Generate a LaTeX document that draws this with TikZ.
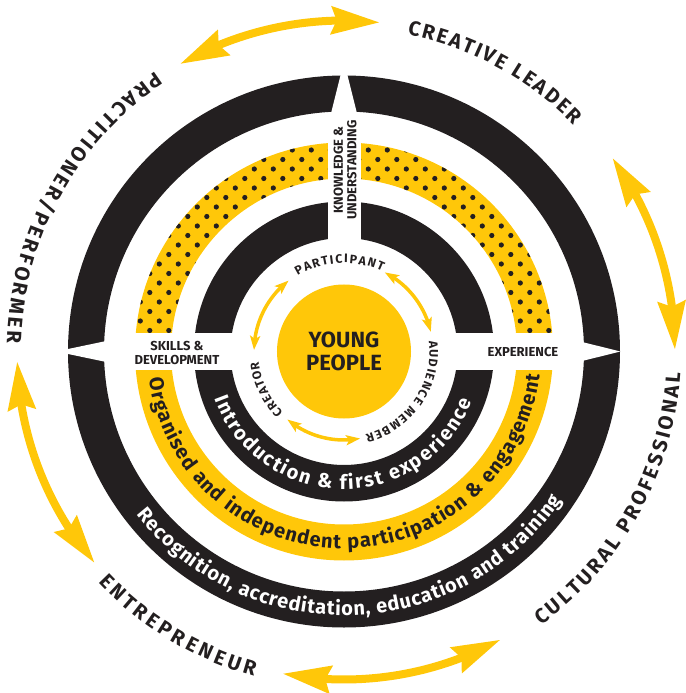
\documentclass[tikz,border=0pt]{standalone}
\usepackage{fontspec}
\setmainfont{Fira Sans}
\usepackage{tikz}
\usetikzlibrary{arrows.meta,bending,decorations.text}
\definecolor{ink}{HTML}{231F20}
\definecolor{gold}{HTML}{FFC709}
\tikzset{
	ring/.style       = {fill = ink, even odd rule},
	goldring/.style   = {fill = gold, even odd rule},
	gap/.style        = {fill = white},
	speck/.style      = {fill = ink},
	bigarrow/.style   = {draw = gold, line width = 8pt,
		{Stealth[length=48pt, width=27pt, inset=5pt]}-{Stealth[length=48pt, width=27pt, inset=5pt]}},
	smallarrow/.style = {draw = gold, line width = 3.5pt,
		{Stealth[length=14pt, width=10pt, inset=3pt]}-{Stealth[length=14pt, width=10pt, inset=3pt]}},
	band/.style       = {text = ink, align = center, inner sep = 0pt,
		font = \bfseries\fontsize{13}{13.5}\selectfont},
	core/.style       = {text = ink, align = center, inner sep = 0pt,
		font = \bfseries\fontsize{22}{22.5}\selectfont}
}
\newcommand{\rolefont}{\bfseries\fontsize{20.5}{22}\selectfont}
\newcommand{\stagefont}{\bfseries\fontsize{20}{22}\selectfont}
\newcommand{\modefont}{\bfseries\fontsize{12.3}{13}\selectfont}
% curved text: colour, radius, from, to, text
\newcommand{\curved}[5]{\path[decorate, decoration = {text along path,
	text align = fit to path, text color = #1, text = {#5}}]
	(#3:#2) arc[start angle = #3, end angle = #4, radius = #2];}

\begin{document}
\begin{tikzpicture}[x=1pt, y=1pt]
	\useasboundingbox (-344,-341.5) rectangle (341,351.5);

	% Drawing the three rings
	\fill[ring] (0,0) circle[radius=276] (0,0) circle[radius=240];
	\fill[goldring] (0,0) circle[radius=209] (0,0) circle[radius=173];
	\fill[ring] (0,0) circle[radius=150] (0,0) circle[radius=113.5];

	% dots on the upper half of the gold ring
	\begin{scope}[even odd rule]
		\clip (0,0) circle[radius=209] (0,0) circle[radius=173];
		\clip (-215,0) rectangle (215,215);
		\foreach \m in {-1,...,11}
		\foreach \i in {-12,...,11}{
			\fill[speck] (5.3+19*\i, 201.5-19*\m) circle[radius=2.6];
			\fill[speck] (14.8+19*\i, 192-19*\m) circle[radius=2.6];
		}
	\end{scope}

	% white bands and notches
	\fill[gap] (-215,-18.5) rectangle (215,18.5);
	\fill[gap] (-16.5,0) rectangle (16.5,215);
	\fill[gap] (-14.5,232) -- (14.5,232) -- (1.5,284) -- (-1.5,284) -- cycle;
	\fill[gap] (-232,11.7) -- (-232,-11.7) -- (-284,-0.8) -- (-284,0.8) -- cycle;
	\fill[gap] (230,11.5) -- (230,-11.5) -- (276.5,0) -- cycle;

	% Drawing the centre and the band labels
	\fill[gold] (0,0) circle[radius=67];
	\draw
	node at (0,0) [core] (young) {YOUNG\\PEOPLE}
	node at (-167,-1.5) [band] (skills) {SKILLS \&\\DEVELOPMENT}
	node at (179,-0.5) [band] (exper) {EXPERIENCE}
	node at (1,181.5) [band, rotate=90] (know) {KNOWLEDGE \&\\UNDERSTANDING};

	% text on the rings
	\curved{white}{137.75}{199.8}{338.6}{|\stagefont|Introduction {\&} first experience}
	\curved{ink}{197}{188}{353.2}{|\stagefont|Organised and independent participation {\&} engagement}
	\curved{white}{264}{218.2}{325.7}{|\stagefont|Recognition, accreditation, education and training}

	% role labels
	\curved{ink}{322.8}{78.7}{44.6}{|\rolefont|CREATIVE LEADER}
	\curved{ink}{337.2}{123.9}{178.5}{|\rolefont|PRACTITIONER/PERFORMER}
	\curved{ink}{337.2}{223.2}{254.5}{|\rolefont|ENTREPRENEUR}
	\curved{ink}{337.2}{305.8}{356.3}{|\rolefont|CULTURAL PROFESSIONAL}

	% mode labels
	\curved{ink}{88.5}{121.5}{64.5}{|\modefont|PARTICIPANT}
	\curved{ink}{85.5}{7}{-75.5}{|\modefont|AUDIENCE MEMBER}
	\curved{ink}{86}{224.9}{186.8}{|\modefont|CREATOR}

	% arrows
	\draw[bigarrow] (119.7:331) arc[start angle=119.7, end angle=83.8, radius=331];
	\draw[bigarrow] (35.8:331) arc[start angle=35.8, end angle=0.3, radius=331];
	\draw[bigarrow] (181.75:327) arc[start angle=181.75, end angle=220.3, radius=327];
	\draw[bigarrow] (259.2:328) arc[start angle=259.2, end angle=298.5, radius=328];
	\draw[smallarrow] (128:90) arc[start angle=128, end angle=179, radius=90];
	\draw[smallarrow] (62.7:89) arc[start angle=62.7, end angle=12.8, radius=89];
	\draw[smallarrow] (230.2:88.5) arc[start angle=230.2, end angle=280.5, radius=88.5];
\end{tikzpicture}
\end{document}
